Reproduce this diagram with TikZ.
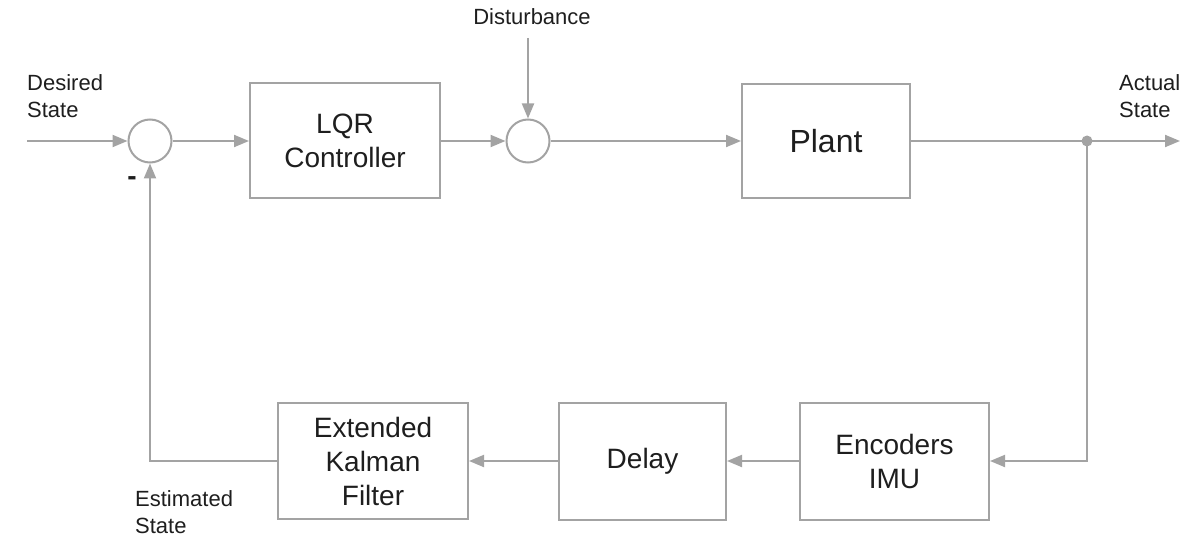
\documentclass[tikz,border=0pt]{standalone}
\usepackage{fontspec}
\setmainfont{Liberation Sans}
\usetikzlibrary{arrows.meta}
\definecolor{ln}{HTML}{A3A3A3}
\definecolor{tx}{HTML}{1E1E1E}
\begin{document}
\begin{tikzpicture}[x=1pt,y=-1pt,
  line/.style={draw=ln,line width=2pt},
  arr/.style={line,-{Triangle[length=15pt,width=12pt]}},
  block/.style={draw=ln,line width=2pt,rectangle,align=center,text=tx,font=\fontsize{28}{34}\selectfont,inner sep=0pt},
  sumnode/.style={draw=ln,line width=2pt,circle,minimum size=43pt,inner sep=0pt},
  lbl/.style={text=tx,font=\fontsize{22}{27}\selectfont,align=left,inner sep=0pt}]
\useasboundingbox (0,0) rectangle (1190,537);
% blocks
\node[sumnode] (sum1) at (150,141) {};
\node[block,minimum width=190pt,minimum height=115pt] (lqr) at (345,141) {LQR\\Controller};
\node[sumnode] (sum2) at (528,141) {};
\node[block,minimum width=168pt,minimum height=114pt,font=\fontsize{32}{38}\selectfont] (plant) at (826,141) {Plant};
\node[block,minimum width=189pt,minimum height=117pt] (enc) at (894.5,461) {Encoders\\IMU};
\node[block,minimum width=167pt,minimum height=117pt] (delay) at (642.5,461) {Delay};
\node[block,minimum width=190pt,minimum height=116pt] (ekf) at (373,461) {Extended\\Kalman\\Filter};
\node[circle,fill=ln,minimum size=11pt,inner sep=0pt] (dot) at (1087,141) {};
% free ends
\coordinate (in) at (27,141);
\coordinate (dist) at (528,38);
\coordinate (out) at (1180,141);
% labels
\node[lbl,anchor=north west] (ldes) at (27,74) {Desired\\State};
\node[lbl,anchor=north west] (lact) at (1119,74) {Actual\\State};
\node[lbl,anchor=base] (ldist) at (532,25) {Disturbance};
\node[lbl,anchor=north west] (lest) at (135,490) {Estimated\\State};
\node[text=tx,inner sep=0pt,font=\fontsize{28}{30}\selectfont\bfseries] (minus) at (132,181) {-};
% connectors
\draw[arr] (in) -- (sum1.west);
\draw[arr] (sum1.east) -- (lqr.west);
\draw[arr] (lqr.east) -- (sum2.west);
\draw[arr] (dist) -- (sum2.north);
\draw[arr] (sum2.east) -- (plant.west);
\draw[arr] (plant.east) -- (out);
\draw[arr] (dot.center) |- (enc.east);
\draw[arr] (enc.west) -- (delay.east);
\draw[arr] (delay.west) -- (ekf.east);
\draw[arr] (ekf.west) -| (sum1.south);
\end{tikzpicture}
\end{document}
